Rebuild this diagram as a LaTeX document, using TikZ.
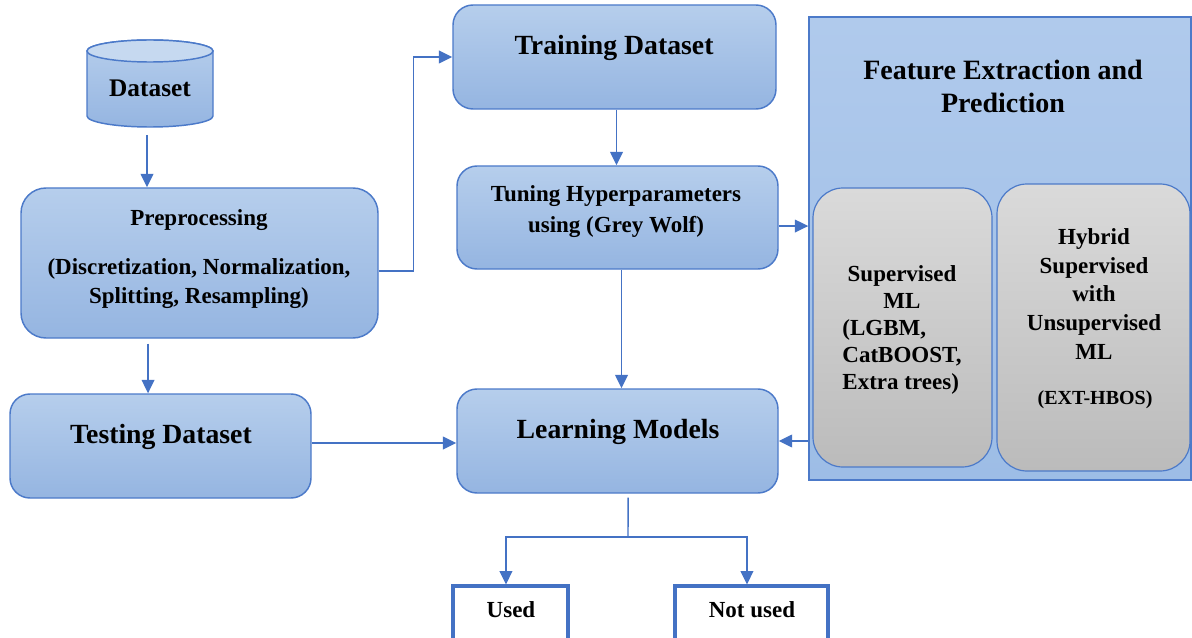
\documentclass[tikz,border=0pt]{standalone}
\usepackage{fontspec}
\setmainfont{Liberation Serif}
\usetikzlibrary{arrows.meta}
\definecolor{bord}{HTML}{4C7AC9}
\definecolor{ln}{HTML}{4472C4}
\definecolor{btop}{HTML}{B6CEEC}
\definecolor{bbot}{HTML}{95B5E1}
\definecolor{ctop}{HTML}{C6D9F0}
\definecolor{fetop}{HTML}{B0CAEC}
\definecolor{febot}{HTML}{9DBDE6}
\definecolor{gtop}{HTML}{DADADA}
\definecolor{gbot}{HTML}{BBBBBB}
\begin{document}
\begin{tikzpicture}[x=0.75pt,y=-0.75pt,
  bluebox/.style={draw=bord, line width=1.1pt, top color=btop, bottom color=bbot, inner sep=0pt},
  greybox/.style={draw=bord, line width=0.9pt, top color=gtop, bottom color=gbot, inner sep=0pt, rounded corners=22.5pt},
  febox/.style={draw=bord, line width=1.1pt, top color=fetop, bottom color=febot, inner sep=0pt},
  whitebox/.style={draw=ln, line width=2.3pt, fill=white, inner sep=0pt},
  txt/.style={font=\bfseries, align=center, inner sep=0pt},
  arr/.style={draw=ln, line width=1.1pt, -{Triangle[length=10pt,width=9.5pt]}},
  ln/.style={draw=ln, line width=1.1pt}]
\useasboundingbox (0,0) rectangle (1192,638);
\clip (0,0) rectangle (1192,638);

% Dataset cylinder
\path[top color=btop, bottom color=bbot, draw=bord, line width=1.1pt]
  (87,51) -- (87,116) arc[start angle=180, end angle=360, x radius=47.25pt, y radius=8.25pt]
  -- (213,51) arc[start angle=0, end angle=180, x radius=47.25pt, y radius=8.25pt] -- cycle;
\draw[fill=ctop, draw=bord, line width=1.1pt] (150,51) ellipse[x radius=47.25pt, y radius=8.25pt];
\node[txt, font=\fontsize{19pt}{22pt}\selectfont\bfseries] (ds) at (150,88) {Dataset};
\coordinate (dsb) at (147,135);

% boxes
\node[bluebox, rounded corners=18.75pt, minimum width=267.75pt, minimum height=112.5pt] (pre) at (199.5,263) {};
\node[bluebox, rounded corners=15pt, minimum width=242.25pt, minimum height=78pt] (tr) at (614.5,57) {};
\node[bluebox, rounded corners=15pt, minimum width=240.75pt, minimum height=77.25pt] (tu) at (617.5,217.5) {};
\node[bluebox, rounded corners=15pt, minimum width=240.75pt, minimum height=78pt] (lm) at (617.5,441) {};
\node[bluebox, rounded corners=15pt, minimum width=225.75pt, minimum height=78pt] (te) at (160.5,446) {};
\node[febox, minimum width=286.5pt, minimum height=347.25pt] (fe) at (1000,248.5) {};
\node[greybox, minimum width=134.25pt, minimum height=209.25pt] (sup) at (902.5,327.5) {};
\node[greybox, minimum width=144.75pt, minimum height=215.25pt] (hyb) at (1093.5,327.5) {};
\node[whitebox, minimum width=86.25pt, minimum height=42pt] (used) at (510.5,614) {};
\node[whitebox, minimum width=114.75pt, minimum height=42pt] (nu) at (751.5,614) {};

% texts
\node[txt, font=\fontsize{17.25pt}{21pt}\selectfont\bfseries] (pret1) at (199,220) {Preprocessing};
\node[txt, font=\fontsize{17.25pt}{21.75pt}\selectfont\bfseries] (pret2) at (199,283.5) {(Discretization, Normalization,\\Splitting, Resampling)};
\node[txt, font=\fontsize{20.8pt}{24pt}\selectfont\bfseries] (trt) at (614,48) {Training Dataset};
\node[txt, font=\fontsize{17.25pt}{23.25pt}\selectfont\bfseries] (tut) at (616,211.5) {Tuning Hyperparameters\\using (Grey Wolf)};
\node[txt, font=\fontsize{20.8pt}{24pt}\selectfont\bfseries] (lmt) at (618,432) {Learning Models};
\node[txt, font=\fontsize{20.8pt}{24pt}\selectfont\bfseries] (tet) at (161,437) {Testing Dataset};
\node[txt, font=\fontsize{21pt}{24.75pt}\selectfont\bfseries] (fet) at (1003,86.5) {Feature Extraction and\\Prediction};
\node[txt, font=\fontsize{17.25pt}{20.25pt}\selectfont\bfseries] (supt) at (902,330)
  {\begin{tabular}{@{}l@{}}\multicolumn{1}{@{}c@{}}{Supervised}\\\multicolumn{1}{@{}c@{}}{ML}\\(LGBM,\\CatBOOST,\\Extra trees)\end{tabular}};
\node[txt, font=\fontsize{17.25pt}{21.4pt}\selectfont\bfseries] (hybt) at (1094,294) {Hybrid\\Supervised\\with\\Unsupervised\\ML};
\node[txt, font=\fontsize{15pt}{18pt}\selectfont\bfseries] (hybt2) at (1095,400) {(EXT-HBOS)};
\node[txt, font=\fontsize{17.25pt}{20pt}\selectfont\bfseries] (usedt) at (511,610) {Used};
\node[txt, font=\fontsize{17.25pt}{20pt}\selectfont\bfseries] (nut) at (752,610) {Not used};

% connectors
\draw[arr] (dsb) -- (dsb |- pre.north);
\draw[arr] ([yshift=-6pt]pre.east) -- ++(35,0) |- (tr.west);
\draw[arr] ([xshift=1.5pt]tr.south) -- ([xshift=1.5pt]tr.south |- tu.north);
\draw[arr] ([yshift=-6.4pt]tu.east) -- ([yshift=-6.4pt]tu.east -| fe.west);
\draw[arr] ([xshift=3pt]tu.south) -- ([xshift=3pt]tu.south |- lm.north);
\draw[arr] ([xshift=-38.6pt,yshift=-3.75pt]pre.south) -- ([xshift=-38.6pt]pre.south |- te.north);
\draw[arr] ([yshift=2.25pt]te.east) -- ([yshift=2.25pt]te.east -| lm.west);
\draw[arr] (fe.west |- lm.east) -- (lm.east);
\coordinate (br) at (628,537);
\draw[ln] ([xshift=7.9pt,yshift=-3pt]lm.south) -- (br);
\draw[arr] (br) -| ([xshift=-3.4pt]used.north);
\draw[arr] (br) -| ([xshift=-3.4pt]nu.north);
\end{tikzpicture}
\end{document}
